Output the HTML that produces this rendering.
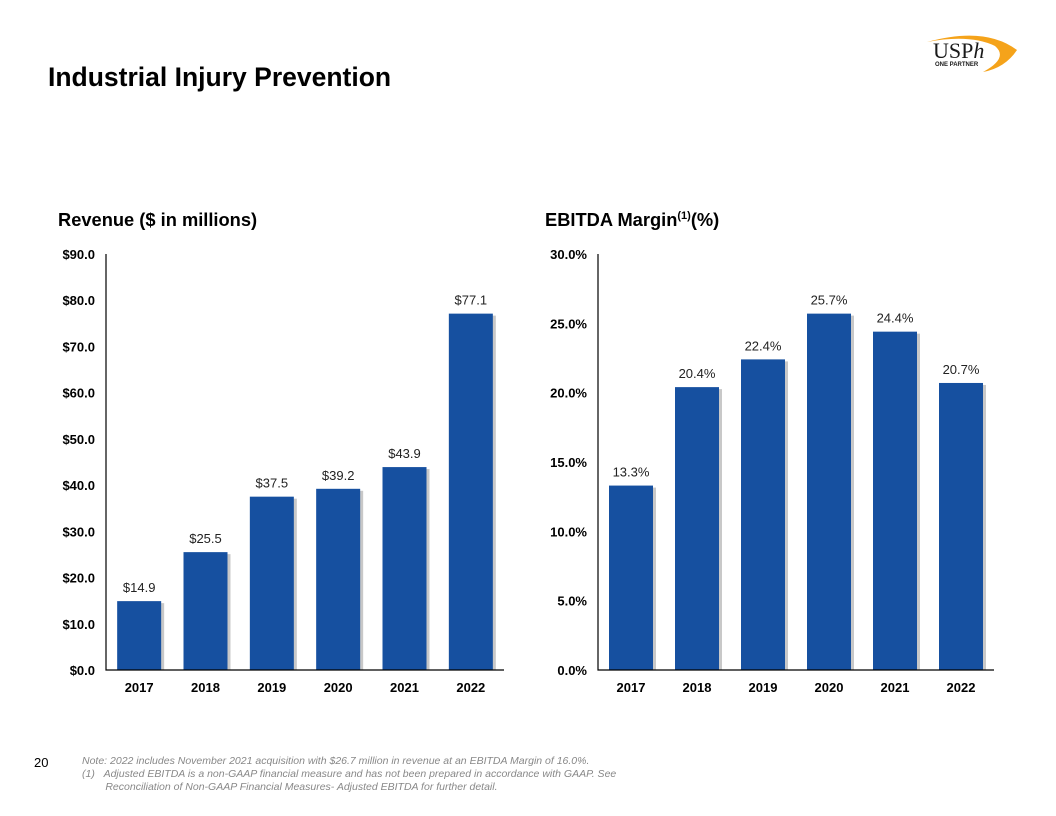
<!DOCTYPE html>
<html><head><meta charset="utf-8"><style>
body{margin:0;background:#fff;font-family:"Liberation Sans",Arial,sans-serif}
#page{position:relative;width:1056px;height:816px;overflow:hidden;background:#fff}
.t{position:absolute;white-space:nowrap}
</style></head><body>
<div id="page">
<div class="t" style="left:48px;top:62px;font-size:26.5px;font-weight:bold;color:#000">Industrial Injury Prevention</div>
<svg style="position:absolute;left:925px;top:28px" width="100" height="45" viewBox="0 0 100 45">
<path d="M2 14 Q60 -2 92 22 Q80 40 58 44 Q84 30 70 18 Q45 6 2 14Z" fill="#f5a31a"/>
<text x="8" y="30" font-family="Liberation Serif,serif" font-size="22" fill="#1a1a1a">USP<tspan font-style="italic">h</tspan></text>
<text x="10" y="38" font-family="Liberation Sans,sans-serif" font-size="6" font-weight="bold" fill="#1a1a1a">ONE PARTNER</text>
</svg>
<div class="t" style="left:58px;top:209px;font-size:18.3px;font-weight:bold">Revenue ($ in millions)</div>
<div class="t" style="left:545px;top:209px;font-size:18.3px;font-weight:bold">EBITDA Margin<sup style="font-size:11px">(1)</sup>(%)</div>
<svg id="c" style="position:absolute;left:0;top:0" width="1056" height="816"></svg>
<div class="t" style="left:34px;top:755px;font-size:13px">20</div>
<div class="t" style="left:82px;top:755px;font-size:10.5px;font-style:italic;color:#888;line-height:13px">Note: 2022 includes November 2021 acquisition with $26.7 million in revenue at an EBITDA Margin of 16.0%.<br>(1)&nbsp;&nbsp;&nbsp;Adjusted EBITDA is a non-GAAP financial measure and has not been prepared in accordance with GAAP. See<br>&nbsp;&nbsp;&nbsp;&nbsp;&nbsp;&nbsp;&nbsp;&nbsp;Reconciliation of Non-GAAP Financial Measures- Adjusted EBITDA for further detail.</div>
</div>
<script>
const years=["2017","2018","2019","2020","2021","2022"];
const revenue=[14.9,25.5,37.5,39.2,43.9,77.1];
const revenueLabels=["$14.9","$25.5","$37.5","$39.2","$43.9","$77.1"];
const revTicks=["$0.0","$10.0","$20.0","$30.0","$40.0","$50.0","$60.0","$70.0","$80.0","$90.0"];
const margin=[13.3,20.4,22.4,25.7,24.4,20.7];
const marginLabels=["13.3%","20.4%","22.4%","25.7%","24.4%","20.7%"];
const marTicks=["0.0%","5.0%","10.0%","15.0%","20.0%","25.0%","30.0%"];
const svg=document.getElementById('c');
const NS="http://www.w3.org/2000/svg";
function mk(t,a){const e=document.createElementNS(NS,t);for(const k in a)e.setAttribute(k,a[k]);svg.appendChild(e);return e;}
function chart(ax,right,vals,labels,ticks,max,step,prefix){
 const base=670,top=254;
 const y=v=>base-(v/max)*(base-top);
 const bw=(right-ax)/years.length;
 const x=i=>ax+bw*(i+0.5);
 ticks.forEach((t,i)=>{const e=mk('text',{x:ax-11,y:y(i*step)+5,'text-anchor':'end','font-size':'13','font-weight':'bold','font-family':'Liberation Sans,sans-serif'});e.textContent=t;

});
 vals.forEach((v,i)=>{
  const sh=mk('rect',{x:x(i)-22+3,y:y(v)+2,width:44,height:base-y(v)-2,fill:'#c8c8c8'});
  
  
  const r=mk('rect',{x:x(i)-22,y:y(v),width:44,height:base-y(v),fill:'#1650a0'});
  
  
  const l=mk('text',{x:x(i),y:y(v)-9,'text-anchor':'middle','font-size':'13','font-family':'Liberation Sans,sans-serif',fill:'#222'});l.textContent=labels[i];
  
  
  const c=mk('text',{x:x(i),y:692,'text-anchor':'middle','font-size':'13','font-weight':'bold','font-family':'Liberation Sans,sans-serif'});c.textContent=years[i];
  
  
 });
 const a=mk('path',{d:`M${ax} ${top}V${base}H${right}`,stroke:'#000','stroke-width':1.2,fill:'none'});
 
 
}
chart(106,504,revenue,revenueLabels,revTicks,90,10,'revenue');
chart(598,994,margin,marginLabels,marTicks,30,5,'ebitda');
</script>
</body></html>
